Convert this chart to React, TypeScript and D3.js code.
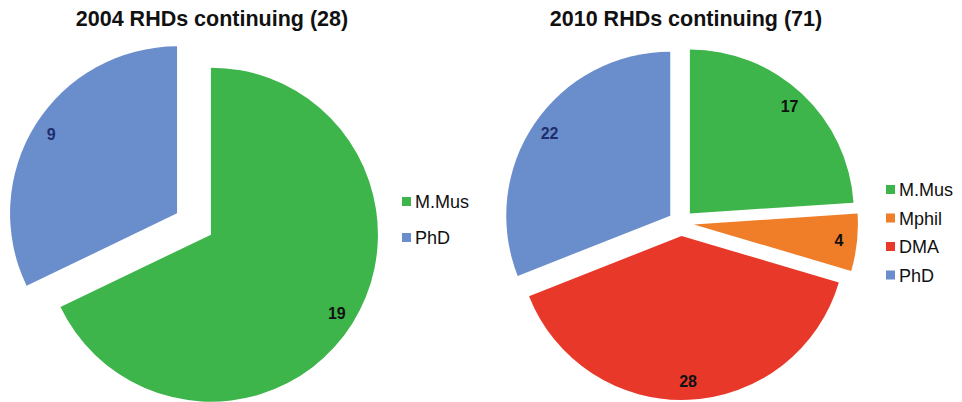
import { useRef, useEffect } from 'react'
import * as d3 from 'd3'

const categories2004 = ['M.Mus', 'PhD']
const values2004 = [19, 9]
const colors2004 = ['#3db54a', '#6a8dcc']

const categories2010 = ['M.Mus', 'Mphil', 'DMA', 'PhD']
const values2010 = [17, 4, 28, 22]
const colors2010 = ['#3db54a', '#f07d28', '#e8382a', '#6a8dcc']

const titles = ['2004 RHDs continuing (28)', '2010 RHDs continuing (71)']
const labelColors: Record<string, string> = { PhD: '#1f2d6b' }

interface PieSpec {
  cats: string[]
  vals: number[]
  colors: string[]
  title: string
  cx: number
  cy: number
  r: number
  explode: number
  titleX: number
  legendX: number
  legendY: number
  legendStep: number
}

const App = () => {
  const ref = useRef<SVGSVGElement>(null)

  useEffect(() => {
    if (!ref.current) return
    const svg = d3.select(ref.current)
    svg.selectAll('*').remove()

    const specs: PieSpec[] = [
      {
        cats: categories2004, vals: values2004, colors: colors2004, title: titles[0],
        cx: 194, cy: 224, r: 167, explode: 20, titleX: 212,
        legendX: 402, legendY: 202, legendStep: 36,
      },
      {
        cats: categories2010, vals: values2010, colors: colors2010, title: titles[1],
        cx: 681, cy: 223, r: 164, explode: 13, titleX: 686,
        legendX: 886, legendY: 190, legendStep: 28.5,
      },
    ]

    specs.forEach(s => {
      const g = svg.append('g')
      const pie = d3.pie<number>().sort(null).value(d => d)
      const arcs = pie(s.vals)
      const arc = d3.arc<d3.PieArcDatum<number>>().innerRadius(0).outerRadius(s.r)
      const color = d3.scaleOrdinal<string, string>().domain(s.cats).range(s.colors)

      arcs.forEach((a, i) => {
        const mid = (a.startAngle + a.endAngle) / 2
        const dx = Math.sin(mid)
        const dy = -Math.cos(mid)
        const ox = s.cx + dx * s.explode
        const oy = s.cy + dy * s.explode
        g.append('path')
          .attr('d', arc(a) || '')
          .attr('transform', `translate(${ox},${oy})`)
          .attr('fill', color(s.cats[i]))
        g.append('text')
          .attr('x', ox + dx * s.r * 0.89)
          .attr('y', oy + dy * s.r * 0.89)
          .attr('text-anchor', 'middle')
          .attr('dominant-baseline', 'central')
          .attr('font-family', 'Liberation Sans, Arial, sans-serif')
          .attr('font-weight', 'bold')
          .attr('font-size', 16)
          .attr('fill', labelColors[s.cats[i]] || '#111')
          .text(String(s.vals[i]))
      })

      g.append('text')
        .attr('x', s.titleX)
        .attr('y', 26)
        .attr('text-anchor', 'middle')
        .attr('font-family', 'Liberation Sans, Arial, sans-serif')
        .attr('font-weight', 'bold')
        .attr('font-size', 21.5)
        .attr('fill', '#111')
        .text(s.title)

      const leg = g.append('g')
      s.cats.forEach((c, i) => {
        const y = s.legendY + i * s.legendStep
        leg.append('rect')
          .attr('x', s.legendX)
          .attr('y', y - 5)
          .attr('width', 9)
          .attr('height', 9)
          .attr('fill', color(c))
        leg.append('text')
          .attr('x', s.legendX + 13)
          .attr('y', y)
          .attr('dominant-baseline', 'central')
          .attr('font-family', 'Liberation Sans, Arial, sans-serif')
          .attr('font-size', 18)
          .attr('fill', '#111')
          .text(c)
      })
    })
  }, [])

  return (
    <svg
      ref={ref}
      width={962}
      height={402}
      style={{ position: 'absolute', left: 0, top: 0, background: '#fff' }}
    />
  )
}

export default App
